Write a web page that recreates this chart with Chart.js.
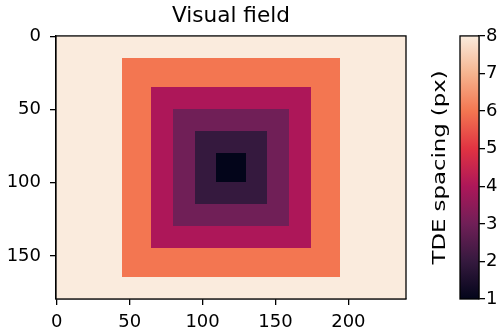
<!DOCTYPE html>
<html>
<head>
<meta charset="utf-8">
<script src="https://cdn.jsdelivr.net/npm/chart.js@4.4.0/dist/chart.umd.min.js"></script>
<style>
  html, body { margin: 0; padding: 0; background: #ffffff; }
  #wrap { width: 504px; height: 335px; }
</style>
</head>
<body>
<div id="wrap"><canvas id="c" width="504" height="335"></canvas></div>
<script>
// Visual field grid size (columns x rows)
const nCols = 240;
const nRows = 180;

// Nested regions of constant TDE spacing, outermost first (inclusive cell indices)
const levels   = [8, 6, 4, 3, 2, 1];
const colStart = [0, 45, 65, 80, 95, 110];
const colEnd   = [239, 194, 174, 159, 144, 129];
const rowStart = [0, 15, 35, 50, 65, 80];
const rowEnd   = [179, 164, 144, 129, 114, 99];

// Tick labels
const xTicks  = [0, 50, 100, 150, 200];
const yTicks  = [0, 50, 100, 150];
const cbTicks = [1, 2, 3, 4, 5, 6, 7, 8];

// Colour scale limits and the "rocket" colormap at 8 evenly spaced stops
const vmin = 1, vmax = 8;
const rocketStops = ['#03051a', '#35193e', '#701f57', '#ad1759', '#e13342', '#f37651', '#f6b48f', '#faebdd'];

const FONT = "'DejaVu Sans', Verdana, sans-serif";

function hexToRgb(h) {
  return [parseInt(h.slice(1, 3), 16), parseInt(h.slice(3, 5), 16), parseInt(h.slice(5, 7), 16)];
}
const stopRgb = rocketStops.map(hexToRgb);

function colormap(v) {
  let t = (v - vmin) / (vmax - vmin);
  t = Math.max(0, Math.min(1, t));
  const pos = t * (stopRgb.length - 1);
  const i = Math.min(Math.floor(pos), stopRgb.length - 2);
  const f = pos - i;
  const a = stopRgb[i], b = stopRgb[i + 1];
  return [0, 1, 2].map(k => Math.round(a[k] + (b[k] - a[k]) * f));
}

// Build the value matrix: each cell takes the innermost region covering it
const field = [];
for (let r = 0; r < nRows; r++) {
  const row = new Array(nCols).fill(NaN);
  for (let c = 0; c < nCols; c++) {
    for (let k = 0; k < levels.length; k++) {
      if (r >= rowStart[k] && r <= rowEnd[k] && c >= colStart[k] && c <= colEnd[k]) row[c] = levels[k];
    }
  }
  field.push(row);
}

// Raster of the field, one pixel per cell
const raster = document.createElement('canvas');
raster.width = nCols;
raster.height = nRows;
(function () {
  const rctx = raster.getContext('2d');
  const img = rctx.createImageData(nCols, nRows);
  for (let r = 0; r < nRows; r++) {
    for (let c = 0; c < nCols; c++) {
      const [R, G, B] = colormap(field[r][c]);
      const o = (r * nCols + c) * 4;
      img.data[o] = R; img.data[o + 1] = G; img.data[o + 2] = B; img.data[o + 3] = 255;
    }
  }
  rctx.putImageData(img, 0, 0);
})();

const CB_WIDTH = 19;   // colour bar thickness in px
const CB_RIGHT = 479;  // right edge of the colour bar

const heatmapPlugin = {
  id: 'heatmap',
  afterLayout(chart) {
    // Move the colour bar axis so its line forms the bar's right edge
    const cb = chart.scales.cb;
    cb.left = CB_RIGHT;
    cb.right = chart.width;
    cb.width = cb.right - cb.left;
  },
  beforeDatasetsDraw(chart) {
    const { ctx, scales: { x, y } } = chart;
    const x0 = x.getPixelForValue(-0.5), x1 = x.getPixelForValue(nCols - 0.5);
    const y0 = y.getPixelForValue(-0.5), y1 = y.getPixelForValue(nRows - 0.5);
    ctx.save();
    ctx.imageSmoothingEnabled = false;
    ctx.drawImage(raster, x0, y0, x1 - x0, y1 - y0);
    ctx.restore();
  },
  afterDraw(chart) {
    const { ctx, chartArea: a, scales: { cb } } = chart;
    ctx.save();
    // Frame around the image
    ctx.strokeStyle = '#000';
    ctx.lineWidth = 1.3;
    ctx.strokeRect(a.left, a.top, a.right - a.left, a.bottom - a.top);

    // Colour bar
    const top = cb.getPixelForValue(vmax), bot = cb.getPixelForValue(vmin);
    const left = CB_RIGHT - CB_WIDTH;
    const grad = ctx.createLinearGradient(0, bot, 0, top);
    rocketStops.forEach((c, i) => grad.addColorStop(i / (rocketStops.length - 1), c));
    ctx.fillStyle = grad;
    ctx.fillRect(left, top, CB_WIDTH, bot - top);
    ctx.strokeRect(left, top, CB_WIDTH, bot - top);

    // Colour bar label
    ctx.fillStyle = '#000';
    ctx.font = '18px ' + FONT;
    ctx.textAlign = 'center';
    ctx.textBaseline = 'alphabetic';
    ctx.translate(445, (top + bot) / 2);
    ctx.rotate(-Math.PI / 2);
    const label = 'TDE spacing (px)';
    const w = ctx.measureText(label).width;
    ctx.scale(194 / w, 1);
    ctx.fillText(label, 0, 0);
    ctx.restore();
  }
};

const tickFont = { family: FONT, size: 18 };
const axisGrid = { drawOnChartArea: false, drawTicks: true, tickLength: 6, color: '#000', lineWidth: 1.3 };
const axisBorder = { display: true, color: '#000', width: 1.3 };
const setTicks = list => scale => { scale.ticks = list.map(v => ({ value: v })); };

new Chart(document.getElementById('c'), {
  type: 'scatter',
  data: { datasets: [{ data: [], pointRadius: 0 }] },
  options: {
    responsive: false,
    animation: false,
    events: [],
    layout: { padding: 0 },
    plugins: {
      legend: { display: false },
      tooltip: { enabled: false },
      title: {
        display: true,
        text: 'Visual field',
        fullSize: false,
        color: '#000',
        font: { family: FONT, size: 21.6, weight: 'normal', lineHeight: 1.2 },
        padding: { top: 3, bottom: 7 }
      }
    },
    scales: {
      x: {
        type: 'linear', position: 'bottom',
        min: -0.5, max: nCols - 0.5,
        afterBuildTicks: setTicks(xTicks),
        afterFit: s => { s.height = 36; },
        grid: axisGrid, border: axisBorder,
        ticks: { font: tickFont, color: '#000', padding: 7, maxRotation: 0, autoSkip: false }
      },
      y: {
        type: 'linear', position: 'left', reverse: true,
        min: -0.5, max: nRows - 0.5,
        afterBuildTicks: setTicks(yTicks),
        afterFit: s => { s.width = 56; },
        grid: axisGrid, border: axisBorder,
        ticks: { font: tickFont, color: '#000', padding: 9, autoSkip: false }
      },
      cb: {
        type: 'linear', position: 'right',
        min: vmin, max: vmax,
        afterBuildTicks: setTicks(cbTicks),
        afterFit: s => { s.width = 98; },
        grid: axisGrid, border: axisBorder,
        ticks: { font: tickFont, color: '#000', padding: 1, autoSkip: false }
      }
    }
  },
  plugins: [heatmapPlugin]
});
</script>
</body>
</html>
